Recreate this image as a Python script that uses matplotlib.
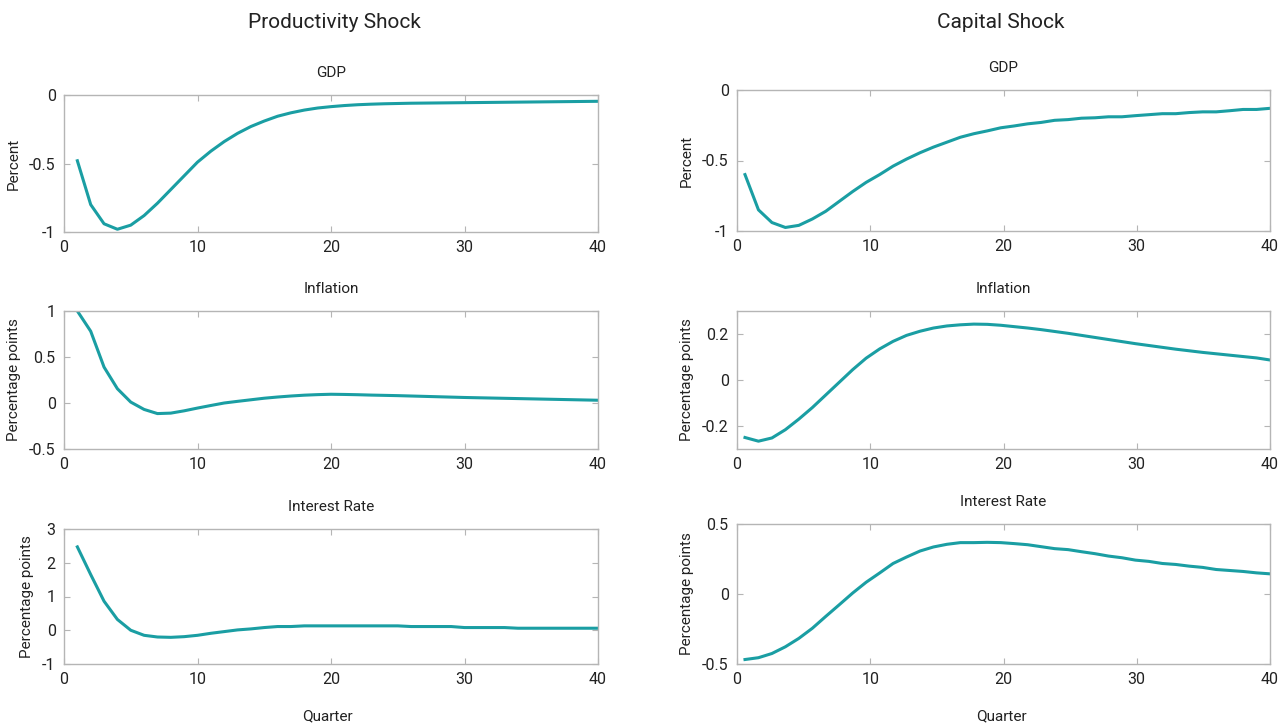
import matplotlib.pyplot as plt
import numpy as np

plt.rcParams['font.family'] = ['Roboto', 'DejaVu Sans']

teal = '#1a9ea3'
grey = '#b5b5b5'

# quarters
q_left = np.arange(1, 41)
q_right = np.linspace(0.6, 40, 40)

# productivity shock
prod_gdp = [-0.48, -0.80, -0.94, -0.98, -0.95, -0.88, -0.79, -0.69, -0.59, -0.49,
            -0.41, -0.34, -0.28, -0.23, -0.19, -0.155, -0.13, -0.11, -0.095, -0.085,
            -0.077, -0.071, -0.067, -0.064, -0.062, -0.060, -0.059, -0.058, -0.057, -0.056,
            -0.055, -0.054, -0.053, -0.052, -0.051, -0.050, -0.049, -0.048, -0.047, -0.046]
prod_infl = [1.0, 0.78, 0.39, 0.155, 0.01, -0.07, -0.115, -0.11, -0.085, -0.055,
             -0.027, 0.0, 0.018, 0.035, 0.052, 0.065, 0.076, 0.085, 0.091, 0.095,
             0.093, 0.09, 0.086, 0.083, 0.08, 0.076, 0.072, 0.068, 0.064, 0.06,
             0.057, 0.054, 0.051, 0.048, 0.045, 0.042, 0.039, 0.036, 0.033, 0.03]
prod_rate = [2.47, 1.65, 0.86, 0.32, 0.0, -0.15, -0.2, -0.21, -0.19, -0.15,
             -0.09, -0.04, 0.01, 0.04, 0.08, 0.11, 0.11, 0.13, 0.13, 0.13,
             0.13, 0.13, 0.13, 0.13, 0.13, 0.11, 0.11, 0.11, 0.11, 0.08,
             0.08, 0.08, 0.08, 0.06, 0.06, 0.06, 0.06, 0.06, 0.06, 0.06]

# capital shock
cap_gdp = [-0.60, -0.85, -0.94, -0.975, -0.96, -0.915, -0.86, -0.79, -0.72, -0.655,
           -0.60, -0.54, -0.49, -0.445, -0.405, -0.37, -0.335, -0.31, -0.29, -0.268,
           -0.255, -0.24, -0.23, -0.215, -0.21, -0.20, -0.197, -0.19, -0.19, -0.182,
           -0.175, -0.168, -0.168, -0.16, -0.155, -0.155, -0.147, -0.138, -0.138, -0.13]
cap_infl = [-0.25, -0.266, -0.252, -0.216, -0.17, -0.12, -0.065, -0.01, 0.045, 0.095,
            0.135, 0.168, 0.194, 0.212, 0.226, 0.235, 0.24, 0.243, 0.242, 0.238,
            0.232, 0.226, 0.219, 0.211, 0.203, 0.194, 0.185, 0.176, 0.167, 0.158,
            0.15, 0.142, 0.134, 0.127, 0.12, 0.114, 0.108, 0.102, 0.096, 0.087]
cap_rate = [-0.468, -0.455, -0.425, -0.377, -0.317, -0.245, -0.16, -0.077, 0.007, 0.084,
            0.15, 0.218, 0.264, 0.307, 0.336, 0.355, 0.367, 0.367, 0.369, 0.367,
            0.36, 0.352, 0.338, 0.324, 0.317, 0.302, 0.288, 0.271, 0.259, 0.242,
            0.233, 0.218, 0.211, 0.199, 0.19, 0.175, 0.168, 0.161, 0.151, 0.144]

panels = [
    # left column
    (q_left, prod_gdp, 'GDP', 'Percent', (-1, 0), [-1, -0.5, 0], ['-1', '-0.5', '0']),
    (q_left, prod_infl, 'Inflation', 'Percentage points', (-0.5, 1), [-0.5, 0, 0.5, 1], ['-0.5', '0', '0.5', '1']),
    (q_left, prod_rate, 'Interest Rate', 'Percentage points', (-1, 3), [-1, 0, 1, 2, 3], ['-1', '0', '1', '2', '3']),
    # right column
    (q_right, cap_gdp, 'GDP', 'Percent', (-1, 0), [-1, -0.5, 0], ['-1', '-0.5', '0']),
    (q_right, cap_infl, 'Inflation', 'Percentage points', (-0.3, 0.3), [-0.2, 0, 0.2], ['-0.2', '0', '0.2']),
    (q_right, cap_rate, 'Interest Rate', 'Percentage points', (-0.5, 0.5), [-0.5, 0, 0.5], ['-0.5', '0', '0.5']),
]

fig = plt.figure(figsize=(12.83, 7.27), dpi=100)
W, H = 1283, 727
# axes boxes in pixels: left, top, right, bottom
boxes = [(64, 95, 598, 232), (64, 311, 598, 449), (64, 529, 598, 664),
         (737, 90, 1270, 231), (737, 311, 1270, 449), (737, 524, 1270, 664)]

for (x, y, title, ylab, ylim, yt, ytl), (l, t, r, b) in zip(panels, boxes):
    ax = fig.add_axes([l / W, 1 - b / H, (r - l) / W, (b - t) / H])
    ax.plot(x, y, color=teal, lw=2.2)
    ax.set_xlim(0, 40)
    ax.set_ylim(*ylim)
    ax.set_xticks([0, 10, 20, 30, 40])
    ax.set_yticks(yt)
    ax.set_yticklabels(ytl)
    ax.set_title(title, fontsize=11, pad=13, color='#222222')
    ax.set_ylabel(ylab, fontsize=11, labelpad=6, color='#222222')
    for s in ax.spines.values():
        s.set_color(grey)
        s.set_linewidth(1)
    ax.tick_params(direction='in', length=4, color=grey, top=True, right=True,
                   labelsize=11.5, pad=6, labelcolor='#222222')

fig.text(334 / W, 1 - 22 / H, 'Productivity Shock', ha='center', va='center', fontsize=15, color='#222222')
fig.text(1001 / W, 1 - 22 / H, 'Capital Shock', ha='center', va='center', fontsize=15, color='#222222')
fig.text(327 / W, 1 - 716 / H, 'Quarter', ha='center', va='center', fontsize=11, color='#222222')
fig.text(1001 / W, 1 - 716 / H, 'Quarter', ha='center', va='center', fontsize=11, color='#222222')

fig.savefig('out.png', dpi=100)
